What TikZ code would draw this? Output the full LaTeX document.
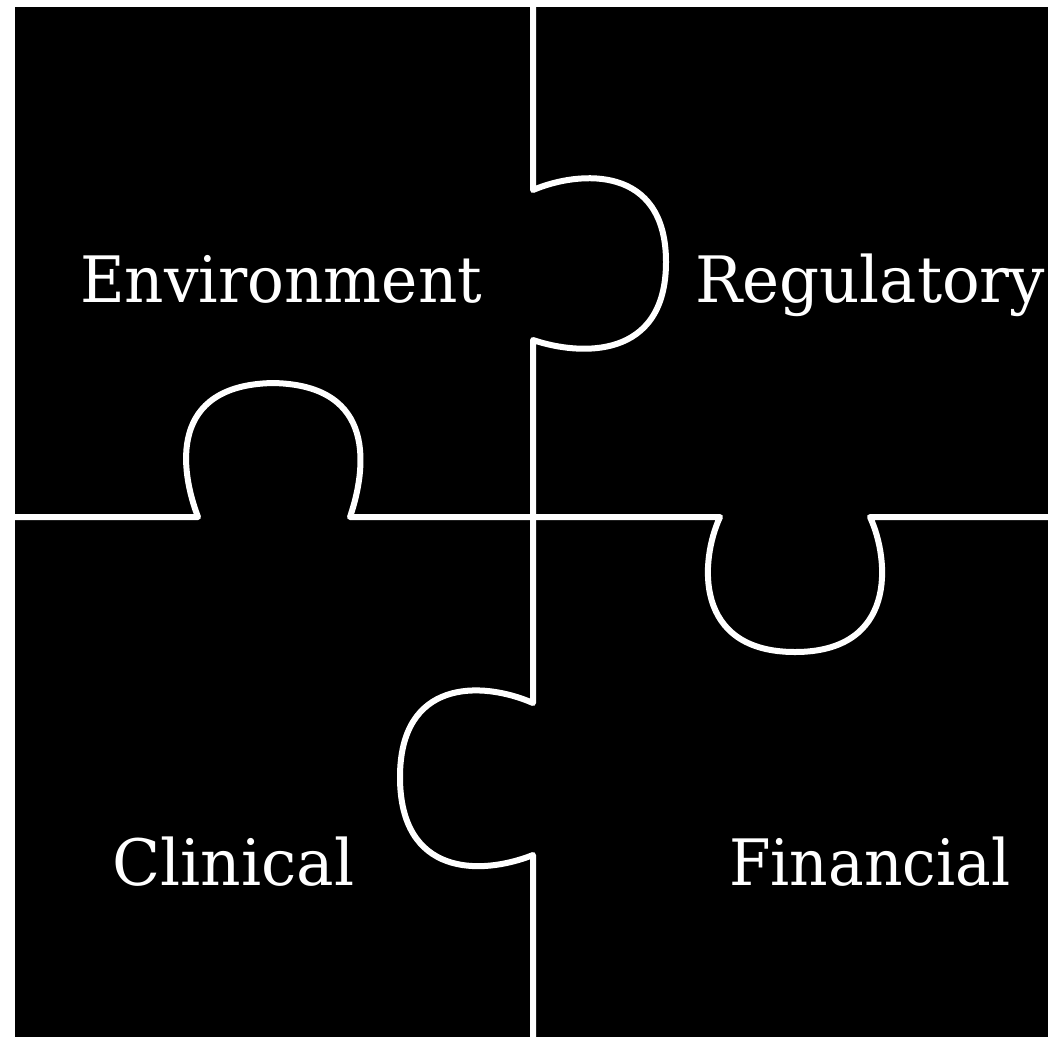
\documentclass[tikz,border=0pt]{standalone}
\usepackage{fontspec}
\setmainfont{DejaVu Serif}
\usepackage{graphicx}
\tikzset{
  seam/.style={draw=white, line width=6pt, line join=round},
  label/.style={text=white, inner sep=0pt, anchor=base west, font=\fontsize{64}{64}\selectfont}
}
\begin{document}
\begin{tikzpicture}[x=1pt,y=-1pt]
\useasboundingbox (0,0) rectangle (1048,1037);
\fill[white] (0,0) rectangle (1048,1037);
\fill[black] (15,7) rectangle (1048,1037);
% horizontal seam with tab up (Clinical) and tab down (Regulatory)
\draw[seam] (15,517) -- (198,517)
  .. controls (180,470) and (168,385) .. (273,383)
  .. controls (378,385) and (366,470) .. (350,517)
  -- (720,517)
  .. controls (700,560) and (693,652) .. (795,652)
  .. controls (897,652) and (890,560) .. (870,517)
  -- (1048,517);
% vertical seam with tab right (Environment) and tab left (Financial)
\draw[seam] (533,7) -- (533,190)
  .. controls (580,170) and (666,165) .. (666,262)
  .. controls (666,360) and (580,356) .. (533,340)
  -- (533,703)
  .. controls (480,680) and (400,680) .. (400,777)
  .. controls (400,876) and (480,876) .. (533,855)
  -- (533,1037);
\node[label] (env) at (80,302) {\resizebox{402pt}{\height}{Environment}};
\node[label] (reg) at (695,302) {\resizebox{350pt}{\height}{Regulatory}};
\node[label] (cli) at (112,885) {\resizebox{242pt}{\height}{Clinical}};
\node[label] (fin) at (729,885) {\resizebox{281pt}{\height}{Financial}};
\end{tikzpicture}
\end{document}
